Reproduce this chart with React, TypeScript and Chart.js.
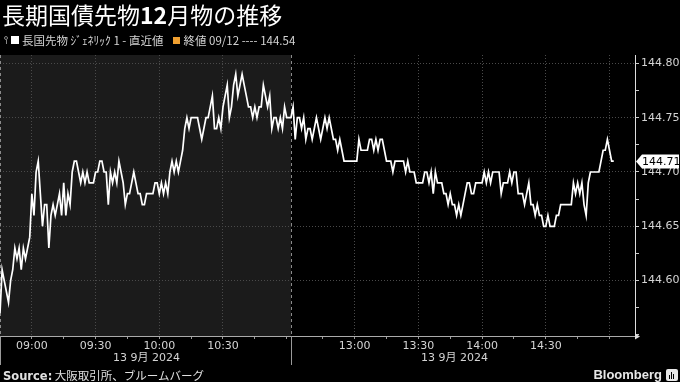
import React, { useEffect, useRef } from 'react';
import { Chart, registerables } from 'chart.js';

Chart.register(...registerables);

// ---- Data ----
const MORNING_START = '08:45';
const MORNING_END = '11:02';
const AFTERNOON_START = '12:30';
const AXIS_END = '15:12';
const AFTERNOON_LABEL_END = '15:04';

// one value per minute from MORNING_START
const MORNING_VALUES = [
  144.57, 144.61, 144.60, 144.59, 144.58, 144.60, 144.61, 144.63, 144.62, 144.63,
  144.61, 144.63, 144.62, 144.63, 144.64, 144.68, 144.66, 144.70, 144.71, 144.68,
  144.65, 144.67, 144.67, 144.63, 144.66, 144.67, 144.66, 144.67, 144.68, 144.66,
  144.69, 144.66, 144.68, 144.67, 144.70, 144.71, 144.71, 144.70, 144.69, 144.70,
  144.69, 144.70, 144.69, 144.69, 144.69, 144.70, 144.70, 144.71, 144.71, 144.70,
  144.70, 144.67, 144.70, 144.69, 144.70, 144.69, 144.71, 144.70, 144.69, 144.67,
  144.68, 144.68, 144.69, 144.70, 144.69, 144.68, 144.68, 144.67, 144.67, 144.68,
  144.68, 144.68, 144.68, 144.69, 144.69, 144.68, 144.69, 144.68, 144.69, 144.68,
  144.70, 144.71, 144.70, 144.71, 144.70, 144.71, 144.72, 144.74, 144.75, 144.74,
  144.75, 144.75, 144.75, 144.75, 144.74, 144.73, 144.74, 144.75, 144.75, 144.76,
  144.77, 144.74, 144.74, 144.75, 144.74, 144.76, 144.77, 144.78, 144.75, 144.76,
  144.78, 144.79, 144.77, 144.78, 144.79, 144.78, 144.77, 144.76, 144.76, 144.75,
  144.76, 144.75, 144.76, 144.76, 144.78, 144.77, 144.76, 144.77, 144.74, 144.75,
  144.75, 144.74, 144.75, 144.74, 144.76, 144.75, 144.75, 144.75,
];

// one value per minute from AFTERNOON_START
const AFTERNOON_VALUES = [
  144.75, 144.76, 144.73, 144.75, 144.75, 144.74, 144.75, 144.73, 144.74, 144.74,
  144.73, 144.74, 144.75, 144.74, 144.73, 144.74, 144.75, 144.74, 144.75, 144.74,
  144.73, 144.73, 144.72, 144.73, 144.72, 144.71, 144.71, 144.71, 144.71, 144.71,
  144.71, 144.71, 144.73, 144.72, 144.72, 144.72, 144.72, 144.73, 144.73, 144.72,
  144.73, 144.72, 144.73, 144.73, 144.72, 144.71, 144.71, 144.71, 144.70, 144.71,
  144.71, 144.71, 144.71, 144.71, 144.70, 144.71, 144.70, 144.70, 144.70, 144.69,
  144.69, 144.69, 144.69, 144.70, 144.70, 144.69, 144.70, 144.68, 144.70, 144.69,
  144.69, 144.69, 144.68, 144.68, 144.67, 144.68, 144.67, 144.67, 144.66, 144.67,
  144.66, 144.67, 144.68, 144.69, 144.69, 144.68, 144.68, 144.69, 144.69, 144.69,
  144.69, 144.70, 144.69, 144.70, 144.69, 144.70, 144.70, 144.70, 144.70, 144.68,
  144.69, 144.69, 144.69, 144.70, 144.69, 144.70, 144.70, 144.68, 144.68, 144.68,
  144.67, 144.68, 144.69, 144.67, 144.67, 144.66, 144.67, 144.66, 144.66, 144.65,
  144.65, 144.66, 144.65, 144.65, 144.65, 144.66, 144.66, 144.67, 144.67, 144.67,
  144.67, 144.67, 144.67, 144.69, 144.68, 144.69, 144.68, 144.69, 144.67, 144.66,
  144.69, 144.70, 144.70, 144.70, 144.70, 144.70, 144.71, 144.72, 144.72, 144.73,
  144.72, 144.71, 144.71,
];

const X_TICKS = [
  '09:00', '09:15', '09:30', '09:45', '10:00', '10:15', '10:30', '10:45', '11:00',
  '12:45', '13:00', '13:15', '13:30', '13:45', '14:00', '14:15', '14:30', '14:45', '15:00',
];
const X_LABELS = ['09:00', '09:30', '10:00', '10:30', '13:00', '13:30', '14:00', '14:30'];
const X_GRID = ['09:00', '09:30', '10:00', '10:30', '13:00', '13:30', '14:00', '14:30', '15:00'];

const Y_MIN = 144.549;
const Y_MAX = 144.8077;
const Y_TICKS = [144.55, 144.575, 144.6, 144.625, 144.65, 144.675, 144.7, 144.725, 144.75, 144.775, 144.8];
const Y_LABELS = [144.6, 144.65, 144.7, 144.75, 144.8];

const DATE_LABEL = '13 9月 2024';
const TITLE_A = '長期国債先物';
const TITLE_B = '12';
const TITLE_C = '月物の推移';
const LEGEND_1 = '長国先物 ｼﾞｪﾈﾘｯｸ 1 - 直近値';
const LEGEND_2 = '終値 09/12 ---- 144.54';
const SOURCE_LABEL = 'Source:';
const SOURCE_TEXT = ' 大阪取引所、ブルームバーグ';

// ---- compressed session time axis ----
const toMin = (t: string) => {
  const [h, m] = t.split(':').map(Number);
  return h * 60 + m;
};
const BOUNDARY_U = toMin(MORNING_END) - toMin(MORNING_START);
const timeToU = (t: string) => {
  const m = toMin(t);
  if (m < toMin(AFTERNOON_START)) return m - toMin(MORNING_START);
  return BOUNDARY_U + (m - toMin(AFTERNOON_START));
};
const uToTime = (u: number) => {
  const total = u <= BOUNDARY_U ? toMin(MORNING_START) + u : toMin(AFTERNOON_START) + (u - BOUNDARY_U);
  const h = Math.floor(total / 60);
  const m = Math.round(total % 60);
  return `${String(h).padStart(2, '0')}:${String(m).padStart(2, '0')}`;
};

const points = [
  ...MORNING_VALUES.map((v, i) => ({ x: i, y: v })),
  ...AFTERNOON_VALUES.map((v, j) => ({ x: BOUNDARY_U + j, y: v })),
];
const LAST_VALUE = AFTERNOON_VALUES[AFTERNOON_VALUES.length - 1];

const FONT = '"DejaVu Sans", "Noto Sans CJK JP", sans-serif';
const CJK = '"Noto Sans CJK JP", "DejaVu Sans", sans-serif';
const TXT = '#d4d4d4';
const GRID = '#4a4a4a';

const near = (arr: number[], v: number) => arr.some((a) => Math.abs(a - v) < 1e-6);

const sessionPlugin = {
  id: 'sessionPlugin',
  beforeDraw(chart: any) {
    const { ctx, chartArea, scales } = chart;
    const xb = scales.x.getPixelForValue(BOUNDARY_U);
    ctx.save();
    ctx.fillStyle = '#000';
    ctx.fillRect(0, 0, chart.width, chart.height);
    ctx.fillStyle = '#1b1b1b';
    ctx.fillRect(chartArea.left, chartArea.top, xb - chartArea.left, chartArea.bottom - chartArea.top);
    ctx.restore();
  },
  beforeDatasetsDraw(chart: any) {
    const { ctx, chartArea, scales } = chart;
    const xb = Math.round(scales.x.getPixelForValue(BOUNDARY_U)) + 0.5;
    ctx.save();
    ctx.strokeStyle = '#8a8a8a';
    ctx.lineWidth = 1;
    ctx.setLineDash([3, 3]);
    ctx.beginPath();
    ctx.moveTo(xb, chartArea.top);
    ctx.lineTo(xb, chartArea.bottom);
    ctx.moveTo(chartArea.left + 0.5, chartArea.top);
    ctx.lineTo(chartArea.left + 0.5, chartArea.bottom);
    ctx.stroke();
    ctx.restore();
  },
  afterDraw(chart: any) {
    const { ctx, chartArea, scales } = chart;
    const x = scales.x;
    const y = scales.y;
    const xb = Math.round(x.getPixelForValue(BOUNDARY_U)) + 0.5;
    ctx.save();
    // session separators below axis
    ctx.strokeStyle = '#9a9a9a';
    ctx.lineWidth = 1;
    ctx.beginPath();
    ctx.moveTo(xb, chartArea.bottom);
    ctx.lineTo(xb, chartArea.bottom + 29);
    ctx.moveTo(chartArea.left + 0.5, chartArea.bottom);
    ctx.lineTo(chartArea.left + 0.5, chartArea.bottom + 29);
    ctx.stroke();
    // axis arrow
    ctx.fillStyle = '#dddddd';
    ctx.beginPath();
    ctx.moveTo(chartArea.right + 5, chartArea.bottom + 0.5);
    ctx.lineTo(chartArea.right, chartArea.bottom - 2.5);
    ctx.lineTo(chartArea.right, chartArea.bottom + 3.5);
    ctx.closePath();
    ctx.fill();
    // date labels
    ctx.fillStyle = TXT;
    ctx.font = `11px ${FONT}`;
    ctx.textAlign = 'center';
    ctx.textBaseline = 'middle';
    const mCenter = (x.getPixelForValue(0) + x.getPixelForValue(BOUNDARY_U)) / 2 + 1;
    const aCenter = (x.getPixelForValue(BOUNDARY_U) + x.getPixelForValue(timeToU(AFTERNOON_LABEL_END))) / 2;
    ctx.fillText(DATE_LABEL, mCenter, chartArea.bottom + 22);
    ctx.fillText(DATE_LABEL, aCenter, chartArea.bottom + 22);
    // last value tag
    const yl = Math.round(y.getPixelForValue(LAST_VALUE)) + 0.5;
    const left = chartArea.right + 1;
    ctx.fillStyle = '#ffffff';
    ctx.beginPath();
    ctx.moveTo(left, yl);
    ctx.lineTo(left + 6, yl - 7);
    ctx.lineTo(chart.width - 1, yl - 7);
    ctx.lineTo(chart.width - 1, yl + 7);
    ctx.lineTo(left + 6, yl + 7);
    ctx.closePath();
    ctx.fill();
    ctx.fillStyle = '#000';
    ctx.textAlign = 'left';
    ctx.font = `11px ${FONT}`;
    ctx.fillText(LAST_VALUE.toFixed(2), left + 6, yl + 0.5);
    ctx.restore();
  },
};

export default function App() {
  const canvasRef = useRef<HTMLCanvasElement | null>(null);

  useEffect(() => {
    document.body.style.margin = '0';
    const canvas = canvasRef.current;
    if (!canvas) return;
    const chart = new Chart(canvas, {
      type: 'line',
      data: {
        datasets: [
          {
            data: points,
            borderColor: '#ffffff',
            borderWidth: 1.7,
            pointRadius: 0,
            tension: 0,
            fill: false,
          },
        ],
      },
      options: {
        responsive: false,
        animation: false,
        parsing: true,
        layout: { padding: { top: 55, left: 0, right: 0, bottom: 0 } },
        plugins: { legend: { display: false }, tooltip: { enabled: false }, title: { display: false } },
        scales: {
          x: {
            type: 'linear',
            min: 0,
            max: timeToU(AXIS_END),
            afterBuildTicks: (s: any) => {
              s.ticks = X_TICKS.map((t) => ({ value: timeToU(t) }));
            },
            afterFit: (s: any) => {
              s.height = 46;
            },
            ticks: {
              autoSkip: false,
              maxRotation: 0,
              minRotation: 0,
              padding: 1,
              color: TXT,
              font: { family: FONT, size: 11 },
              callback: (v: any) => {
                const t = uToTime(Number(v));
                return X_LABELS.includes(t) ? t : '';
              },
            },
            grid: {
              color: (ctx: any) =>
                ctx.tick && X_GRID.includes(uToTime(ctx.tick.value)) ? GRID : 'rgba(0,0,0,0)',
              tickColor: '#9a9a9a',
              tickLength: 3,
              lineWidth: 1,
            },
            border: { color: '#aaaaaa', width: 1, dash: [1, 2] },
          },
          y: {
            type: 'linear',
            position: 'right',
            min: Y_MIN,
            max: Y_MAX,
            afterBuildTicks: (s: any) => {
              s.ticks = Y_TICKS.map((v) => ({ value: v }));
            },
            afterFit: (s: any) => {
              s.width = 45;
            },
            ticks: {
              padding: 2,
              color: TXT,
              font: { family: FONT, size: 11 },
              callback: (v: any) => (near(Y_LABELS, Number(v)) ? Number(v).toFixed(2) : ''),
            },
            grid: {
              color: (ctx: any) => (ctx.tick && near(Y_LABELS, ctx.tick.value) ? GRID : 'rgba(0,0,0,0)'),
              tickColor: '#cccccc',
              tickLength: 4,
              lineWidth: 1,
            },
            border: { color: '#dddddd', width: 1, dash: [1, 2] },
          },
        },
      },
      plugins: [sessionPlugin],
    } as any);
    return () => chart.destroy();
  }, []);

  return (
    <div
      style={{
        position: 'fixed',
        left: 0,
        top: 0,
        width: 680,
        height: 382,
        background: '#000',
        overflow: 'hidden',
      }}
    >
      <canvas ref={canvasRef} width={680} height={382} style={{ position: 'absolute', left: 0, top: 0 }} />
      <div
        style={{
          position: 'absolute',
          left: 2,
          top: 0,
          fontFamily: CJK,
          fontSize: 23,
          lineHeight: '28px',
          color: '#ffffff',
          whiteSpace: 'nowrap',
        }}
      >
        {TITLE_A}
        <b style={{ fontWeight: 700 }}>{TITLE_B}</b>
        {TITLE_C}
      </div>
      <div
        style={{
          position: 'absolute',
          left: 3,
          top: 33,
          height: 14,
          display: 'flex',
          alignItems: 'center',
          fontFamily: CJK,
          fontSize: 11.5,
          lineHeight: '14px',
          color: TXT,
          whiteSpace: 'nowrap',
        }}
      >
        <span style={{ position: 'relative', width: 6, height: 10, display: 'inline-block', marginRight: 2 }}>
          <span
            style={{
              position: 'absolute',
              left: 1,
              top: 1,
              width: 4,
              height: 4,
              borderRadius: 2,
              border: '1px solid #888',
              boxSizing: 'border-box',
            }}
          />
          <span style={{ position: 'absolute', left: 2.5, top: 5, width: 1, height: 4, background: '#888' }} />
        </span>
        <span style={{ display: 'inline-block', width: 8, height: 8, background: '#fff', marginRight: 3 }} />
        <span>{LEGEND_1}</span>
        <span
          style={{ display: 'inline-block', width: 7, height: 7, background: '#f0a030', marginLeft: 10, marginRight: 3 }}
        />
        <span>{LEGEND_2}</span>
      </div>
      <div
        style={{
          position: 'absolute',
          left: 3,
          top: 368,
          fontFamily: CJK,
          fontSize: 11.5,
          lineHeight: '14px',
          color: '#e0e0e0',
          whiteSpace: 'nowrap',
        }}
      >
        <b style={{ fontFamily: FONT }}>{SOURCE_LABEL}</b>
        {SOURCE_TEXT}
      </div>
      <div
        style={{
          position: 'absolute',
          right: 2,
          top: 367,
          display: 'flex',
          alignItems: 'center',
          fontFamily: '"Liberation Sans", Arial, sans-serif',
          fontWeight: 700,
          fontSize: 13,
          lineHeight: '16px',
          color: '#e8e8e8',
          whiteSpace: 'nowrap',
        }}
      >
        <span>Bloomberg</span>
        <span
          style={{
            position: 'relative',
            display: 'inline-block',
            width: 12,
            height: 12,
            marginLeft: 4,
            background: '#e8e8e8',
            borderRadius: 2,
          }}
        >
          <span style={{ position: 'absolute', left: 3, top: 6, width: 1, height: 4, background: '#000' }} />
          <span style={{ position: 'absolute', left: 5, top: 3, width: 1, height: 7, background: '#000' }} />
          <span style={{ position: 'absolute', left: 7, top: 5, width: 1, height: 5, background: '#000' }} />
        </span>
      </div>
    </div>
  );
}
